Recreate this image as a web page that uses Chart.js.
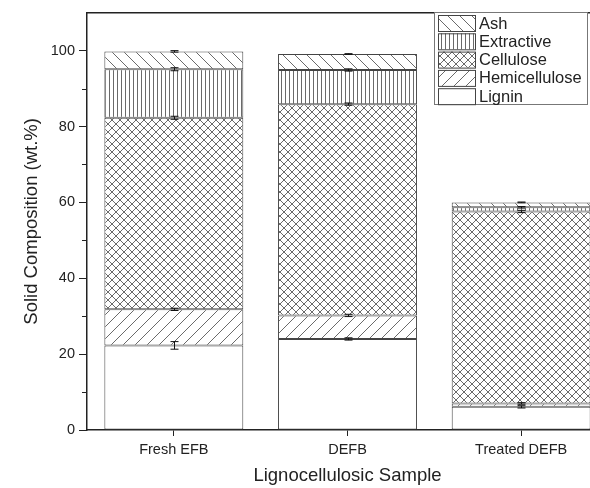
<!DOCTYPE html>
<html>
<head>
<meta charset="utf-8">
<script src="https://cdn.jsdelivr.net/npm/chart.js@4/dist/chart.umd.min.js"></script>
<style>
  html, body { margin: 0; padding: 0; background: #fff; overflow: hidden; }
</style>
</head>
<body>
<canvas id="myChart" width="608" height="488"></canvas>
<script>
// data
const categories = ['Fresh EFB', 'DEFB', 'Treated DEFB'];
const lignin = [22.3, 24.0, 6.1];
const hemicellulose = [9.5, 6.2, 0.9];
const cellulose = [50.5, 55.7, 50.6];
const extractive = [12.8, 9.0, 1.1];
const ash = [4.7, 4.2, 1.3];

const ligninErr = [1.0, 0.3, 0.3];
const hemicelluloseErr = [0.3, 0.3, 0.2];
const celluloseErr = [0.4, 0.3, 0.3];
const extractiveErr = [0.4, 0.3, 0.2];
const ashErr = [0.2, 0.1, 0.1];

const yMajorTicks = [0, 20, 40, 60, 80, 100];
const yMinorTicks = [10, 30, 50, 70, 90];

const FONT = "'Liberation Sans', Arial, sans-serif";
const INK = '#222';

function makePattern(kind) {
    if (kind === 'plain') return '#ffffff';
    const size = kind === 'vertical' ? 4 : (kind === 'cross' ? 8 : 12);
    const c = document.createElement('canvas');
    c.width = size;
    c.height = size;
    const g = c.getContext('2d');
    g.fillStyle = '#fff';
    g.fillRect(0, 0, size, size);
    g.strokeStyle = '#6a6a6a';
    g.lineWidth = 1;
    g.beginPath();
    if (kind === 'vertical') {
        g.moveTo(1.5, 0);
        g.lineTo(1.5, size);
    }
    if (kind === 'forward' || kind === 'cross') {
        for (let k = -1; k <= 1; k++) {
            g.moveTo(k * size, size);
            g.lineTo(k * size + size, 0);
        }
    }
    if (kind === 'back' || kind === 'cross') {
        for (let k = -1; k <= 1; k++) {
            g.moveTo(k * size, 0);
            g.lineTo(k * size + size, size);
        }
    }
    g.stroke();
    return g.createPattern(c, 'repeat');
}

const series = [
    { label: 'Lignin', data: lignin, err: ligninErr, fill: makePattern('plain') },
    { label: 'Hemicellulose', data: hemicellulose, err: hemicelluloseErr, fill: makePattern('forward') },
    { label: 'Cellulose', data: cellulose, err: celluloseErr, fill: makePattern('cross') },
    { label: 'Extractive', data: extractive, err: extractiveErr, fill: makePattern('vertical') },
    { label: 'Ash', data: ash, err: ashErr, fill: makePattern('back') },
];

// top frame line + minor ticks on the y axis
const framePlugin = {
    id: 'frame',
    afterDraw(chart) {
        const { ctx, chartArea } = chart;
        const y = chart.scales.y;
        ctx.save();
        ctx.strokeStyle = INK;
        ctx.lineWidth = 1.5;
        ctx.beginPath();
        ctx.moveTo(chartArea.left, chartArea.top);
        ctx.lineTo(chartArea.right, chartArea.top);
        ctx.lineTo(chartArea.right, chartArea.bottom);
        ctx.stroke();
        ctx.lineWidth = 1;
        ctx.beginPath();
        yMinorTicks.forEach(v => {
            const py = Math.round(y.getPixelForValue(v)) + 0.5;
            ctx.moveTo(chartArea.left - 5, py);
            ctx.lineTo(chartArea.left, py);
        });
        ctx.stroke();
        ctx.restore();
    }
};

// error bars at the top of every stacked segment
const errorBarPlugin = {
    id: 'errorBars',
    afterDatasetsDraw(chart) {
        const { ctx } = chart;
        const x = chart.scales.x;
        const y = chart.scales.y;
        ctx.save();
        ctx.strokeStyle = '#111';
        ctx.lineWidth = 1;
        categories.forEach((cat, j) => {
            let top = 0;
            const px = Math.round(x.getPixelForValue(j)) + 0.5;
            series.forEach(s => {
                top += s.data[j];
                const y1 = y.getPixelForValue(top + s.err[j]);
                const y2 = y.getPixelForValue(top - s.err[j]);
                ctx.beginPath();
                ctx.moveTo(px, y1);
                ctx.lineTo(px, y2);
                ctx.moveTo(px - 4, y1);
                ctx.lineTo(px + 4, y1);
                ctx.moveTo(px - 4, y2);
                ctx.lineTo(px + 4, y2);
                ctx.stroke();
            });
        });
        ctx.restore();
    }
};

// boxed legend inside the plot, top right
const legendPlugin = {
    id: 'boxLegend',
    afterDraw(chart) {
        const { ctx } = chart;
        const bx = 434, by = 12, bw = 153, bh = 92;
        ctx.save();
        ctx.fillStyle = '#fff';
        ctx.fillRect(bx, by, bw, bh);
        ctx.strokeStyle = '#777';
        ctx.lineWidth = 1;
        ctx.strokeRect(bx + 0.5, by + 0.5, bw, bh);
        ctx.font = '16.5px ' + FONT;
        ctx.textBaseline = 'middle';
        const items = series.slice().reverse();
        items.forEach((s, i) => {
            const sy = by + 3 + i * 18.3;
            ctx.fillStyle = s.fill;
            ctx.fillRect(bx + 4, sy, 37, 16);
            ctx.strokeStyle = '#444';
            ctx.strokeRect(bx + 4.5, sy + 0.5, 37, 16);
            ctx.fillStyle = INK;
            ctx.fillText(s.label, bx + 45, sy + 9);
        });
        ctx.restore();
    }
};

const ctx = document.getElementById('myChart');
const myChart = new Chart(ctx, {
    type: 'bar',
    data: {
        labels: categories,
        datasets: series.map(s => ({
            label: s.label,
            data: s.data,
            backgroundColor: s.fill,
            borderColor: '#444',
            borderWidth: 1,
            borderSkipped: false,
            barPercentage: 0.8,
            categoryPercentage: 1.0
        }))
    },
    options: {
        responsive: false,
        animation: false,
        layout: {
            padding: { left: 0, top: 8, right: 0, bottom: 0 }
        },
        scales: {
            x: {
                stacked: true,
                afterFit: (scale) => { scale.height = 58; },
                border: { display: true, color: INK, width: 1.5 },
                grid: {
                    offset: false,
                    drawOnChartArea: false,
                    drawTicks: true,
                    tickLength: 6,
                    color: INK
                },
                ticks: {
                    color: INK,
                    padding: 5,
                    font: { family: FONT, size: 14.5 }
                },
                title: {
                    display: true,
                    text: 'Lignocellulosic Sample',
                    color: INK,
                    padding: { top: 0, bottom: 1 },
                    font: { family: FONT, size: 18.5 }
                }
            },
            y: {
                stacked: true,
                min: 0,
                max: 110,
                afterFit: (scale) => { scale.width = 87; },
                afterBuildTicks: (scale) => {
                    scale.ticks = yMajorTicks.map(v => ({ value: v }));
                },
                border: { display: true, color: INK, width: 1.5 },
                grid: {
                    drawOnChartArea: false,
                    drawTicks: true,
                    tickLength: 8,
                    color: INK
                },
                ticks: {
                    color: INK,
                    padding: 4,
                    font: { family: FONT, size: 14.5 }
                },
                title: {
                    display: true,
                    text: 'Solid Composition (wt.%)',
                    color: INK,
                    padding: { top: 21, bottom: 0 },
                    font: { family: FONT, size: 18.5 }
                }
            }
        },
        plugins: {
            legend: { display: false },
            tooltip: { enabled: false }
        }
    },
    plugins: [errorBarPlugin, framePlugin, legendPlugin]
});
</script>
</body>
</html>
